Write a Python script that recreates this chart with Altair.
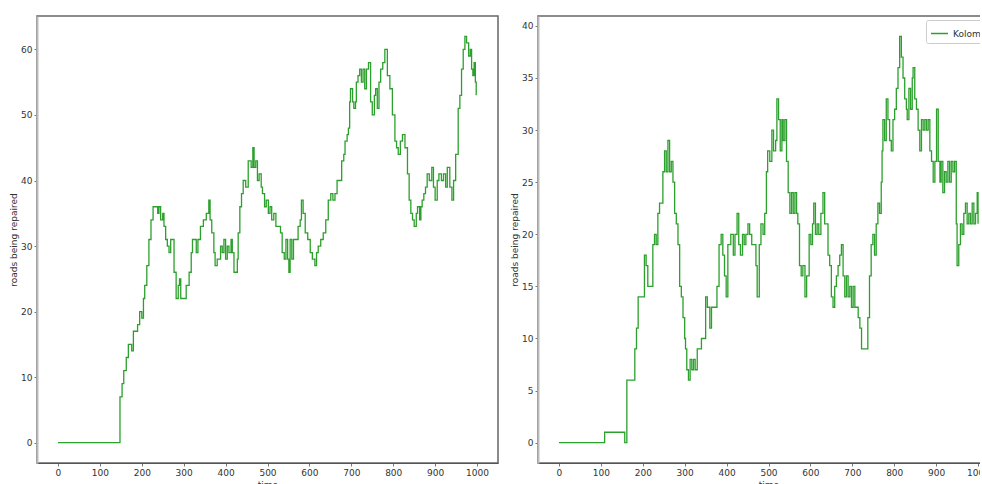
import altair as alt
import pandas as pd

GREEN = "#2ca02c"

# (time, roads being repaired) at each change of level, drawn as a step line
left_steps = [
    (0, 0), (148, 7), (153, 9), (157, 11), (163, 13), (168, 15), (176, 14), (180, 17),
    (190, 18), (195, 20), (200, 19), (204, 22), (207, 24), (212, 27), (217, 31), (222, 34),
    (227, 36), (238, 35), (241, 36), (245, 34), (250, 35), (253, 33), (257, 31), (261, 30),
    (265, 29), (269, 31), (275, 31), (277, 26), (282, 22), (287, 24), (290, 25), (293, 22),
    (302, 22), (306, 24), (313, 26), (318, 29), (321, 31), (326, 31), (330, 29), (334, 31),
    (340, 33), (347, 34), (354, 35), (360, 37), (363, 34), (367, 32), (372, 29), (375, 27),
    (380, 28), (386, 28), (388, 30), (392, 29), (396, 31), (400, 28), (404, 30), (408, 29),
    (413, 31), (416, 29), (420, 26), (428, 28), (430, 32), (434, 36), (438, 38), (442, 40),
    (448, 39), (452, 39), (454, 43), (458, 43), (461, 42), (465, 45), (468, 42), (472, 43),
    (476, 40), (480, 41), (485, 39), (488, 38), (493, 36), (497, 37), (502, 35), (506, 36),
    (510, 34), (515, 35), (520, 33), (525, 33), (531, 32), (535, 29), (540, 28), (544, 31),
    (548, 28), (551, 26), (554, 31), (558, 28), (562, 31), (567, 31), (573, 33), (578, 34),
    (581, 37), (585, 35), (590, 32), (596, 31), (602, 29), (607, 28), (613, 27), (617, 29),
    (621, 30), (627, 31), (633, 32), (639, 34), (645, 37), (651, 38), (656, 37), (661, 38),
    (666, 40), (672, 40), (677, 43), (682, 44), (685, 46), (690, 47), (693, 48), (696, 52),
    (698, 54), (703, 52), (706, 51), (710, 52), (712, 55), (716, 56), (720, 57), (724, 55),
    (728, 57), (732, 54), (736, 57), (741, 58), (746, 52), (750, 50), (755, 53), (758, 54),
    (762, 51), (766, 55), (770, 57), (775, 58), (780, 60), (786, 56), (792, 54), (798, 50),
    (804, 46), (808, 45), (812, 44), (817, 46), (822, 47), (828, 45), (834, 41), (838, 37),
    (842, 35), (846, 34), (850, 33), (855, 35), (858, 36), (863, 34), (866, 36), (869, 37),
    (873, 38), (877, 39), (881, 41), (886, 40), (892, 42), (896, 39), (900, 37), (905, 40),
    (909, 41), (915, 40), (920, 41), (925, 39), (929, 42), (935, 39), (940, 37), (944, 40),
    (949, 44), (955, 51), (959, 53), (963, 57), (967, 60), (971, 62), (975, 61), (980, 59),
    (984, 60), (987, 57), (990, 56), (993, 58), (996, 55), (998, 53),
]

kolomna_steps = [
    (0, 0), (109, 1), (157, 0), (162, 6), (177, 6), (181, 9), (185, 11), (189, 14),
    (200, 14), (204, 18), (208, 17), (212, 15), (220, 15), (224, 19), (228, 20), (232, 19),
    (236, 22), (240, 23), (244, 23), (248, 26), (252, 28), (256, 26), (260, 29), (264, 26),
    (268, 27), (272, 25), (276, 22), (280, 21), (284, 19), (288, 15), (292, 14), (296, 12),
    (300, 10), (302, 9), (305, 7), (309, 6), (313, 8), (317, 7), (321, 8), (325, 7),
    (330, 9), (334, 9), (340, 10), (344, 10), (350, 14), (354, 13), (360, 11), (364, 13),
    (370, 13), (377, 15), (382, 19), (387, 20), (391, 18), (395, 16), (399, 14), (403, 19),
    (410, 20), (416, 18), (420, 20), (425, 22), (429, 19), (433, 18), (438, 20), (442, 19),
    (446, 20), (451, 21), (455, 20), (460, 19), (466, 19), (470, 17), (473, 14), (478, 19),
    (482, 21), (487, 20), (491, 22), (495, 26), (498, 28), (503, 27), (508, 30), (512, 28),
    (517, 29), (520, 33), (524, 31), (528, 28), (532, 31), (535, 29), (539, 31), (543, 27),
    (547, 24), (551, 22), (555, 24), (559, 22), (563, 24), (567, 22), (570, 21), (574, 17),
    (578, 16), (582, 17), (587, 14), (591, 16), (597, 20), (601, 19), (605, 21), (608, 23),
    (612, 20), (616, 21), (620, 20), (625, 22), (630, 24), (634, 21), (638, 21), (642, 18),
    (646, 17), (650, 14), (654, 13), (658, 15), (662, 16), (666, 17), (670, 18), (674, 19),
    (678, 16), (682, 14), (686, 16), (690, 14), (694, 15), (698, 13), (702, 15), (706, 13),
    (710, 13), (714, 12), (718, 11), (722, 9), (728, 9), (733, 9), (737, 12), (741, 16),
    (745, 19), (749, 20), (753, 18), (757, 21), (761, 23), (765, 22), (769, 25), (771, 28),
    (773, 31), (777, 29), (781, 33), (785, 31), (789, 29), (793, 28), (797, 31), (801, 32),
    (805, 34), (809, 36), (813, 39), (817, 37), (821, 35), (825, 33), (829, 32), (831, 31),
    (835, 34), (839, 32), (843, 35), (845, 36), (849, 33), (853, 32), (857, 30), (861, 28),
    (865, 31), (869, 30), (873, 31), (877, 30), (881, 31), (885, 28), (889, 27), (893, 25),
    (897, 27), (901, 32), (905, 27), (909, 25), (912, 27), (916, 24), (920, 26), (924, 25),
    (928, 27), (932, 25), (936, 27), (940, 26), (944, 27), (948, 21), (950, 17), (954, 19),
    (958, 21), (962, 20), (966, 22), (970, 23), (974, 21), (978, 22), (982, 21), (986, 23),
    (990, 21), (994, 22), (998, 24), (1000, 21),
]

x_ticks = list(range(0, 1001, 100))
left_y_ticks = list(range(0, 61, 10))
right_y_ticks = list(range(0, 41, 5))

left_df = pd.DataFrame(left_steps, columns=["time", "roads"])
right_df = pd.DataFrame(kolomna_steps, columns=["time", "roads"])
right_df["city"] = "Kolomna"

AXIS_STYLE = dict(
    grid=False, tickSize=3, tickColor="#777", labelFontSize=9, titleFontSize=9,
    labelColor="#333", titleColor="#333", labelFont="DejaVu Sans",
    titleFont="DejaVu Sans", titleFontWeight="normal", labelPadding=2,
    format="d",
)

W, H = 461, 447


def x_enc():
    return alt.X(
        "time:Q",
        scale=alt.Scale(domain=[-50, 1050], nice=False, zero=False),
        axis=alt.Axis(values=x_ticks, title="time", domainColor="#555",
                      titlePadding=3, labelFlush=False, **AXIS_STYLE),
    )


def y_enc(lo, hi, ticks):
    return alt.Y(
        "roads:Q",
        scale=alt.Scale(domain=[lo, hi], nice=False, zero=False),
        axis=alt.Axis(values=ticks, title="roads being repaired", domainColor="#bbb",
                      domainWidth=2, titlePadding=2, labelFlush=False, **AXIS_STYLE),
    )


left = alt.Chart(left_df).mark_line(
    interpolate="step-after", strokeWidth=1.3, color=GREEN
).encode(
    x=x_enc(), y=y_enc(-3.1, 65.1, left_y_ticks)
).properties(width=W, height=H)

right = alt.Chart(right_df).mark_line(
    interpolate="step-after", strokeWidth=1.3
).encode(
    x=x_enc(),
    y=y_enc(-1.95, 40.95, right_y_ticks),
    color=alt.Color(
        "city:N",
        scale=alt.Scale(range=[GREEN]),
        legend=alt.Legend(
            orient="none", legendX=889, legendY=4, title=None,
            symbolType="stroke", symbolSize=289, symbolStrokeWidth=1.5,
            strokeColor="#ccc", fillColor="white", padding=4, cornerRadius=2,
            labelFontSize=9, labelFont="DejaVu Sans", labelColor="#333",
        ),
    ),
).properties(width=W, height=H)

# the right-hand panel runs past the page edge, so the page is trimmed there
chart = alt.hconcat(left, right, spacing=10).properties(
    padding={"left": 8, "top": 15, "right": -20, "bottom": -6},
    background="white",
).configure_view(stroke="#666", strokeWidth=1.5)

chart.save("out.html", embed_options={"renderer": "svg", "actions": False})
